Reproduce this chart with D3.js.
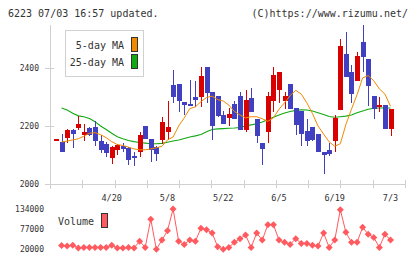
<!DOCTYPE html>
<html>
<head>
<meta charset="utf-8">
<script src="https://cdn.jsdelivr.net/npm/d3@7"></script>
<style>
  body { margin: 0; background: #fff; }
  svg { display: block; font-family: "DejaVu Sans Mono", monospace; }
</style>
</head>
<body>
<div id="chart"></div>
<script>
/* DATA */
const dateLabels = [[10, "4/20"], [20, "5/8"], [30, "5/22"], [40, "6/5"], [50, "6/19"], [60, "7/3"]];
const priceTicks = [2000, 2200, 2400];
const volumeTicks = [20000, 77000, 134000];

const open  = [2155,2145,2159,2187,2194,2170,2193,2197,2150,2139,2090,2116,2132,2124,2098,2109,2201,2155,2127,2153,
               2181,2343,2346,2284,2277,2300,2299,2402,2316,2304,2239,2226,2277,2302,2185,2295,2225,2141,2178,2285,
               2325,2285,2346,2262,2253,2183,2195,2173,2109,2118,2147,2254,2450,2386,2354,2490,2431,2302,2266,2273,2191];
const high  = [2155,2173,2188,2188,2233,2208,2195,2216,2170,2145,2130,2138,2143,2126,2112,2181,2201,2155,2131,2231,
               2287,2394,2346,2284,2357,2356,2402,2402,2316,2305,2253,2262,2285,2318,2323,2330,2225,2141,2316,2402,
               2385,2318,2346,2262,2253,2225,2197,2173,2111,2141,2239,2500,2523,2412,2454,2550,2431,2302,2299,2273,2260];
const low   = [2155,2109,2143,2124,2187,2150,2165,2130,2107,2092,2069,2101,2109,2066,2061,2093,2155,2075,2080,2139,
               2153,2281,2250,2239,2268,2266,2266,2279,2153,2230,2208,2201,2224,2185,2178,2247,2143,2064,2143,2250,
               2279,2259,2260,2170,2130,2130,2147,2109,2034,2098,2112,2254,2369,2279,2354,2385,2268,2225,2247,2190,2166];
const close = [2155,2109,2187,2173,2208,2180,2168,2147,2117,2107,2128,2133,2121,2083,2088,2170,2155,2116,2105,2215,
               2195,2300,2287,2271,2268,2290,2374,2314,2201,2233,2208,2242,2224,2185,2288,2247,2164,2121,2304,2377,
               2385,2304,2260,2202,2174,2149,2153,2109,2099,2104,2227,2475,2369,2310,2442,2437,2337,2260,2273,2190,2260];

const ma5  = [null,2145,2148,2152,2156,2165,2175,2177,2170,2160,2146,2136,2133,2127,2121,2118,2118,2121,2125,2130,
              2152,2162,2200,2228,2260,2266,2284,2298,2303,2291,2286,2272,2250,2238,2228,2232,2232,2225,2216,2228,
              2258,2280,2305,2323,2310,2280,2243,2200,2172,2145,2130,2139,2205,2258,2308,2366,2374,2356,2328,2310,2268];
const ma25 = [null,2262,2255,2244,2235,2232,2226,2215,2200,2188,2175,2163,2156,2150,2146,2143,2141,2139,2139,2140,
              2144,2148,2152,2157,2162,2166,2171,2180,2188,2190,2191,2192,2193,2195,2200,2204,2208,2214,2222,2230,
              2238,2245,2250,2254,2256,2255,2252,2246,2240,2233,2230,2232,2234,2238,2246,2252,2258,2261,2262,2262,2262];

const volume = [null,30000,28500,30500,23000,24500,24500,24500,24500,24500,30500,23000,23000,24500,23000,42000,
                24500,105000,19000,45500,72000,134000,42000,33000,45500,42000,79000,75000,65500,26500,19000,
                24500,39000,49500,60000,24500,65500,45500,89000,89000,45500,39000,33000,49500,36000,36000,
                30500,28500,65500,24500,45500,132000,67500,39000,39000,82000,62000,53000,24500,62000,45500];

/* LAYOUT */
const width = 420, height = 259;
const frame = { left: 50, right: 405, top: 25, bottom: 184 };
const upColor = "#d90000", downColor = "#4040c0";
const axisColor = "#d0d0d0", textColor = "#333";

const svg = d3.select("#chart").append("svg")
  .attr("width", width)
  .attr("height", height);

// header texts
svg.append("text").attr("x", 8).attr("y", 17)
  .attr("font-size", 10).attr("fill", textColor)
  .text("6223 07/03 16:57 updated.");
svg.append("text").attr("x", 408).attr("y", 17)
  .attr("font-size", 10).attr("fill", textColor).attr("text-anchor", "end")
  .text("(C)https://www.rizumu.net/");

/* SCALES */
const xScale = d3.scaleLinear().domain([0, 60]).range([56, 390.5]);
const yScale = d3.scaleLinear().domain([2000, 2550]).range([frame.bottom, 24.5]);
const vScale = d3.scaleLinear().domain([20000, 134000]).range([249, 209]);
const tickScale = d3.scaleLinear().domain([0, 11]).range([frame.left, frame.right]);

/* AXES */
const axes = svg.append("g").attr("shape-rendering", "crispEdges");
axes.append("line")
  .attr("x1", frame.left).attr("x2", frame.left)
  .attr("y1", frame.top).attr("y2", 189)
  .attr("stroke", axisColor);
axes.append("line")
  .attr("x1", frame.left).attr("x2", frame.right)
  .attr("y1", frame.bottom).attr("y2", frame.bottom)
  .attr("stroke", axisColor);
axes.selectAll(".xt").data(d3.range(1, 12)).join("line")
  .attr("x1", d => Math.round(tickScale(d))).attr("x2", d => Math.round(tickScale(d)))
  .attr("y1", frame.bottom - 4).attr("y2", frame.bottom + 4)
  .attr("stroke", axisColor);
axes.selectAll(".yt").data(priceTicks).join("line")
  .attr("x1", 45).attr("x2", 54)
  .attr("y1", d => Math.round(yScale(d))).attr("y2", d => Math.round(yScale(d)))
  .attr("stroke", axisColor);

svg.selectAll(".ylab").data(priceTicks).join("text")
  .attr("x", 39).attr("y", d => yScale(d)).attr("dy", "0.35em")
  .attr("text-anchor", "end").attr("font-size", 8).attr("fill", textColor)
  .text(d => d);

svg.selectAll(".xlab").data(dateLabels).join("text")
  .attr("x", d => xScale(d[0])).attr("y", 201)
  .attr("text-anchor", "middle").attr("font-size", 8.5).attr("fill", textColor)
  .text(d => d[1]);

/* LEGEND */
const legend = svg.append("g");
legend.append("rect").attr("x", 65.5).attr("y", 30.5).attr("width", 78).attr("height", 46)
  .attr("fill", "#fff").attr("stroke", axisColor);
const legendItems = [["5-day MA", "#f28a00"], ["25-day MA", "#11aa11"]];
legendItems.forEach((d, k) => {
  legend.append("text").attr("x", 124).attr("y", 49 + k * 17)
    .attr("text-anchor", "end").attr("font-size", 10).attr("fill", textColor).text(d[0]);
  legend.append("rect").attr("x", 131.5).attr("y", 37.5 + k * 17).attr("width", 6).attr("height", 14)
    .attr("fill", d[1]).attr("stroke", "#333");
});

/* MOVING AVERAGES */
const maLine = arr => d3.line()
  .defined(i => arr[i] != null)
  .x(i => xScale(i))
  .y(i => yScale(arr[i]));
const idx = d3.range(open.length);

svg.append("path").attr("d", maLine(ma25)(idx))
  .attr("fill", "none").attr("stroke", "#11aa11").attr("stroke-width", 1.1);

/* CANDLES */
const candles = svg.append("g").attr("shape-rendering", "crispEdges");
candles.selectAll(".wick").data(idx).join("line")
  .attr("x1", i => Math.round(xScale(i)) + 0.5).attr("x2", i => Math.round(xScale(i)) + 0.5)
  .attr("y1", i => yScale(high[i])).attr("y2", i => yScale(low[i]))
  .attr("stroke", i => close[i] >= open[i] ? upColor : downColor);
candles.selectAll(".body").data(idx).join("rect")
  .attr("x", i => Math.round(xScale(i)) - 2)
  .attr("width", 5)
  .attr("y", i => yScale(Math.max(open[i], close[i])))
  .attr("height", i => Math.max(1.5, Math.abs(yScale(open[i]) - yScale(close[i]))))
  .attr("fill", i => close[i] >= open[i] ? upColor : downColor);

svg.append("path").attr("d", maLine(ma5)(idx))
  .attr("fill", "none").attr("stroke", "#f28a00").attr("stroke-width", 1);

/* VOLUME */
const volColor = "#ff5a5f";
svg.selectAll(".vlab").data(volumeTicks).join("text")
  .attr("x", 44).attr("y", d => vScale(d)).attr("dy", "0.35em")
  .attr("text-anchor", "end").attr("font-size", 8).attr("fill", textColor)
  .text(d => d);

svg.append("text").attr("x", 58).attr("y", 225)
  .attr("font-size", 10).attr("fill", textColor).text("Volume");
svg.append("rect").attr("x", 101.5).attr("y", 213.5).attr("width", 6).attr("height", 14)
  .attr("fill", volColor).attr("stroke", "#333");

const volIdx = idx.filter(i => volume[i] != null);
svg.append("path")
  .attr("d", d3.line().x(i => xScale(i)).y(i => vScale(volume[i]))(volIdx))
  .attr("fill", "none").attr("stroke", volColor).attr("stroke-width", 1);
svg.selectAll(".vdot").data(volIdx).join("path")
  .attr("transform", i => `translate(${xScale(i)},${vScale(volume[i])})`)
  .attr("d", "M0,-3.5L3.5,0L0,3.5L-3.5,0Z")
  .attr("fill", volColor);
</script>
</body>
</html>
